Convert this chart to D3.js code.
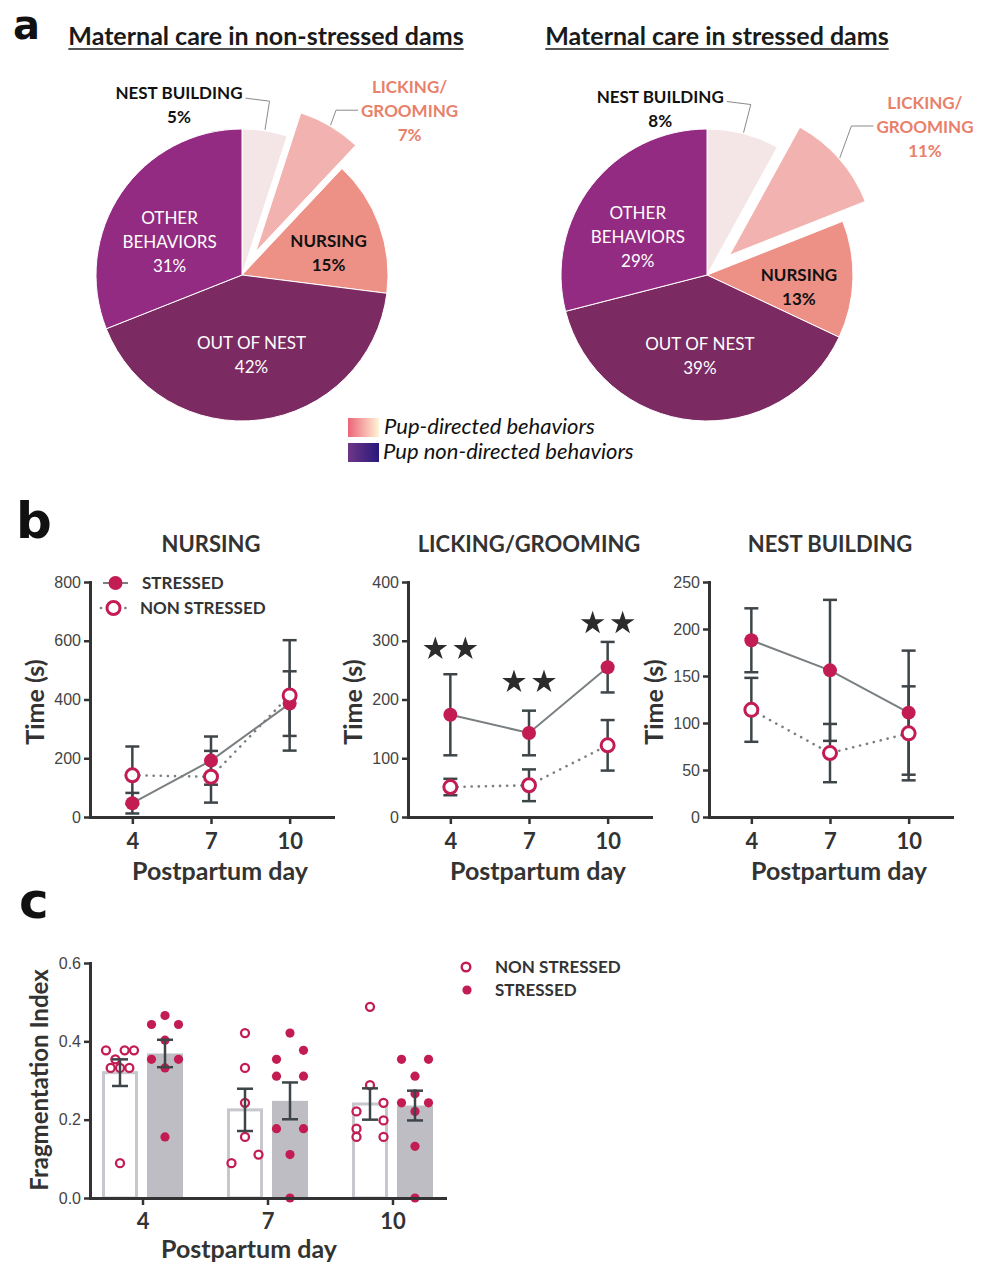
<!DOCTYPE html>
<html>
<head>
<meta charset="utf-8">
<script src="https://cdn.jsdelivr.net/npm/d3@7"></script>
<style>
  body { margin: 0; background: #fff; }
  svg { display: block; }
</style>
</head>
<body>
<svg id="fig" width="987" height="1262"></svg>
<script>
// ---------- data ----------
const pieCategories = ["NEST BUILDING", "LICKING/GROOMING", "NURSING", "OUT OF NEST", "OTHER BEHAVIORS"];
const pieLabelLines = [["NEST BUILDING"], ["LICKING/", "GROOMING"], ["NURSING"], ["OUT OF NEST"], ["OTHER", "BEHAVIORS"]];
const pieNonStressed = [5, 7, 15, 42, 31];
const pieStressed = [8, 11, 13, 39, 29];

const days = [4, 7, 10];

// panel b, mean and error bar half-length (s)
const nursingStressed = [47, 192, 386];
const nursingStressedErr = [35, 82, 110];
const nursingNonStressed = [142, 137, 414];
const nursingNonStressedErr = [98, 88, 188];

const lgStressed = [174, 143, 255];
const lgStressedErr = [69, 38, 43];
const lgNonStressed = [51, 54, 122];
const lgNonStressedErr = [14, 27, 43];
const lgStarLevel = [286, 230, 330];

const nbStressed = [188, 156, 111];
const nbStressedErr = [34, 75, 66];
const nbNonStressed = [114, 68, 89];
const nbNonStressedErr = [34, 31, 50];

const nursingTicks = [0, 200, 400, 600, 800];
const lgTicks = [0, 100, 200, 300, 400];
const nbTicks = [0, 50, 100, 150, 200, 250];

// panel c, fragmentation index
const fragTicks = [0, 0.2, 0.4, 0.6];
const fragNonStressedMean = [0.320, 0.225, 0.240];
const fragNonStressedSem = [0.034, 0.054, 0.040];
const fragStressedMean = [0.369, 0.248, 0.236];
const fragStressedSem = [0.035, 0.047, 0.038];
const fragNonStressedPts = [
  [0.377, 0.377, 0.377, 0.354, 0.332, 0.332, 0.332, 0.089],
  [0.421, 0.332, 0.243, 0.156, 0.111, 0.089],
  [0.488, 0.288, 0.243, 0.221, 0.198, 0.177, 0.156, 0.156]
];
const fragStressedPts = [
  [0.466, 0.443, 0.443, 0.403, 0.354, 0.354, 0.332, 0.156],
  [0.421, 0.377, 0.354, 0.311, 0.311, 0.177, 0.177, 0.111, 0.0],
  [0.354, 0.354, 0.311, 0.266, 0.243, 0.243, 0.221, 0.132, 0.0]
];

// ---------- styles ----------
const FONT = "Lato, 'Open Sans', sans-serif";
const NUM_FONT = "'Liberation Sans', Arial, sans-serif";
const LETTER_FONT = "'DejaVu Sans', sans-serif";
const INK = "#333";
const RED = "#c31c52";
const ERR_INK = "#3d4549";
const LINE_GRAY = "#7a7f82";
const pieColors = ["#f4e6e6", "#f2b2af", "#ed9086", "#7b2b62", "#932b82"];
const pieLabelColor = ["#111", "#e8806a", "#111", "#fff", "#fff"];
const pieLabelWeight = [700, 700, 700, 400, 400];
const pieLabelRadius = [0, 0, 0.63, 0.52, 0.6];
const pieLabelNudge = [0, 0, 4, 0, 11];

const svg = d3.select("#fig");

function panelLetter(t, x, y, size) {
  svg.append("text").attr("x", x).attr("y", y).text(t)
    .attr("font-family", LETTER_FONT).attr("font-weight", 700)
    .attr("font-size", size).attr("fill", "#111");
}

// ---------- panel a: pies ----------
const defs = svg.append("defs");
const gPink = defs.append("linearGradient").attr("id", "gradPink");
gPink.append("stop").attr("offset", "0%").attr("stop-color", "#ec6478");
gPink.append("stop").attr("offset", "100%").attr("stop-color", "#fff4d6");
const gPurple = defs.append("linearGradient").attr("id", "gradPurple");
gPurple.append("stop").attr("offset", "0%").attr("stop-color", "#6f3686");
gPurple.append("stop").attr("offset", "100%").attr("stop-color", "#281a7c");

function drawPie(cx, cy, title, values, opt) {
  const r = 146;
  const g = svg.append("g").attr("transform", `translate(${cx},${cy})`);
  const arcs = d3.pie().sort(null).value(d => d)(values);
  const arc = d3.arc().innerRadius(0).outerRadius(r);
  const mid = d => (d.startAngle + d.endAngle) / 2;
  const polar = (rad, a) => [Math.sin(a) * rad, -Math.cos(a) * rad];
  const shift = (d, i) => i === 1 ? polar(opt.explode, mid(d)) : [0, 0];

  g.selectAll("path.slice").data(arcs).join("path")
    .attr("class", "slice")
    .attr("d", arc)
    .attr("transform", (d, i) => `translate(${shift(d, i)})`)
    .attr("fill", (d, i) => pieColors[i])
    .attr("stroke", "#fff").attr("stroke-width", 1);

  const lineH = 24;
  function label(lines, i, x, y0) {
    const t = g.append("text").attr("text-anchor", "middle")
      .attr("font-family", FONT).attr("font-size", 17)
      .attr("font-weight", pieLabelWeight[i]).attr("fill", pieLabelColor[i]);
    lines.forEach((s, k) => t.append("tspan").attr("x", x).attr("y", y0 + k * lineH).text(s));
    return t;
  }

  arcs.forEach((d, i) => {
    const lines = pieLabelLines[i].concat([values[i] + "%"]);
    if (i >= 2) {
      const lr = r * pieLabelRadius[i];
      const c = d3.arc().innerRadius(lr).outerRadius(lr).centroid(d);
      label(lines, i, c[0], c[1] - (lines.length - 1) / 2 * lineH + 11 + pieLabelNudge[i]);
    }
  });

  // nest building: callout to the upper left
  const nb = arcs[0];
  const nbStart = polar(r + 1, mid(nb));
  const nbElbow = polar(r + 30, mid(nb));
  const nbEnd = [nbElbow[0] - 24, nbElbow[1] - 3];
  g.append("path").attr("d", d3.line()([nbStart, nbElbow, nbEnd]))
    .attr("fill", "none").attr("stroke", "#8a8a8a").attr("stroke-width", 1);
  const probe = g.append("text").attr("font-family", FONT).attr("font-size", 17)
    .attr("font-weight", 700).text(pieLabelLines[0][0]);
  const nbW = probe.node().getComputedTextLength();
  probe.remove();
  label(pieLabelLines[0].concat([values[0] + "%"]), 0, nbEnd[0] - 3 - nbW / 2, nbEnd[1] + 1);

  // licking/grooming: callout to the upper right of the exploded slice
  const lg = arcs[1];
  const lgStart = polar(r + opt.explode + 1, mid(lg));
  const lean = 20 * Math.PI / 180;
  const lgElbow = [lgStart[0] + Math.sin(lean) * opt.callout, lgStart[1] - Math.cos(lean) * opt.callout];
  const lgEnd = [lgElbow[0] + 22, lgElbow[1]];
  g.append("path").attr("d", d3.line()([lgStart, lgElbow, lgEnd]))
    .attr("fill", "none").attr("stroke", "#8a8a8a").attr("stroke-width", 1);
  const probe2 = g.append("text").attr("font-family", FONT).attr("font-size", 17)
    .attr("font-weight", 700).text(pieLabelLines[1][1]);
  const lgW = probe2.node().getComputedTextLength();
  probe2.remove();
  label(pieLabelLines[1].concat([values[1] + "%"]), 1, lgEnd[0] + 3 + lgW / 2, lgElbow[1] - 17);

  // title with underline
  const tt = svg.append("text").attr("x", opt.titleX).attr("y", 45)
    .attr("text-anchor", "middle").attr("font-family", FONT)
    .attr("font-weight", 700).attr("font-size", 25).attr("fill", "#1a1a1a").text(title);
  const w = tt.node().getComputedTextLength();
  svg.append("line").attr("x1", opt.titleX - w / 2).attr("x2", opt.titleX + w / 2)
    .attr("y1", 49).attr("y2", 49).attr("stroke", "#1a1a1a").attr("stroke-width", 1.6);
}

panelLetter("a", 13, 39, 40);
drawPie(242, 275, "Maternal care in non-stressed dams", pieNonStressed, { explode: 27, callout: 16, titleX: 266 });
drawPie(707, 275, "Maternal care in stressed dams", pieStressed, { explode: 30, callout: 34, titleX: 717 });

const legA = svg.append("g");
legA.append("rect").attr("x", 348).attr("y", 418).attr("width", 31).attr("height", 19).attr("fill", "url(#gradPink)");
legA.append("rect").attr("x", 348).attr("y", 443).attr("width", 31).attr("height", 19).attr("fill", "url(#gradPurple)");
legA.append("text").attr("x", 384).attr("y", 434).text("Pup-directed behaviors");
legA.append("text").attr("x", 383).attr("y", 459).text("Pup non-directed behaviors");
legA.selectAll("text").attr("font-family", FONT).attr("font-style", "italic")
  .attr("font-size", 22).attr("fill", "#111");

// ---------- shared helpers ----------
function styleAxis(sel) {
  sel.select(".domain").attr("stroke", INK).attr("stroke-width", 3).attr("stroke-linecap", "square");
  sel.selectAll(".tick line").attr("stroke", INK).attr("stroke-width", 2.5);
}

function errorBar(g, x, y, mean, err, cap) {
  const y1 = y(mean - err), y2 = y(mean + err);
  g.append("line").attr("x1", x).attr("x2", x).attr("y1", y1).attr("y2", y2);
  g.append("line").attr("x1", x - cap).attr("x2", x + cap).attr("y1", y1).attr("y2", y1);
  g.append("line").attr("x1", x - cap).attr("x2", x + cap).attr("y1", y2).attr("y2", y2);
}

// ---------- panel b: time courses ----------
function timePanel(o) {
  const g = svg.append("g");
  const x = d3.scaleLinear().domain([4 - 42 / 26, 10 + 43 / 26]).range([o.left, o.left + 243]);
  const y = d3.scaleLinear().domain([0, o.yMax]).range([817, 582]);

  const xa = g.append("g").attr("transform", "translate(0,817)")
    .call(d3.axisBottom(x).tickValues(days).tickFormat(d3.format("d")).tickSize(7).tickSizeOuter(0).tickPadding(9));
  styleAxis(xa);
  xa.selectAll(".tick text").attr("font-family", FONT).attr("font-weight", 700)
    .attr("font-size", 22).attr("fill", INK);

  const ya = g.append("g").attr("transform", `translate(${o.left},0)`)
    .call(d3.axisLeft(y).tickValues(o.ticks).tickSize(6).tickSizeOuter(0).tickPadding(3));
  styleAxis(ya);
  ya.selectAll(".tick text").attr("font-family", NUM_FONT).attr("font-size", 16).attr("fill", "#444");

  g.append("text").attr("x", x(7)).attr("y", 552).attr("text-anchor", "middle")
    .attr("font-family", FONT).attr("font-weight", 700).attr("font-size", 22).attr("fill", INK).text(o.title);
  g.append("text").attr("transform", `translate(${o.left - 46},702) rotate(-90)`).attr("text-anchor", "middle")
    .attr("font-family", FONT).attr("font-weight", 700).attr("font-size", 25).attr("fill", INK).text("Time (s)");
  g.append("text").attr("x", x(7) + 9).attr("y", 880).attr("text-anchor", "middle")
    .attr("font-family", FONT).attr("font-weight", 700).attr("font-size", 25).attr("fill", INK).text("Postpartum day");

  const line = d3.line().x((d, i) => x(days[i])).y(d => y(d));
  g.append("path").attr("d", line(o.non)).attr("fill", "none")
    .attr("stroke", LINE_GRAY).attr("stroke-width", 2.6)
    .attr("stroke-dasharray", "0.1 7").attr("stroke-linecap", "round");
  g.append("path").attr("d", line(o.str)).attr("fill", "none")
    .attr("stroke", LINE_GRAY).attr("stroke-width", 2);

  const eb = g.append("g").attr("stroke", ERR_INK).attr("stroke-width", 2.5);
  days.forEach((d, i) => {
    errorBar(eb, x(d), y, o.str[i], o.strErr[i], 7);
    errorBar(eb, x(d), y, o.non[i], o.nonErr[i], 7);
  });

  g.selectAll("circle.s").data(o.str).join("circle").attr("class", "s")
    .attr("cx", (d, i) => x(days[i])).attr("cy", d => y(d)).attr("r", 7).attr("fill", RED);
  g.selectAll("circle.n").data(o.non).join("circle").attr("class", "n")
    .attr("cx", (d, i) => x(days[i])).attr("cy", d => y(d)).attr("r", 6.5)
    .attr("fill", "#fff").attr("stroke", RED).attr("stroke-width", 3);

  return { g, x, y };
}

panelLetter("b", 16, 538, 50);

const pNursing = timePanel({ left: 90, yMax: 800, ticks: nursingTicks, title: "NURSING",
  str: nursingStressed, strErr: nursingStressedErr, non: nursingNonStressed, nonErr: nursingNonStressedErr });
const pLG = timePanel({ left: 408, yMax: 400, ticks: lgTicks, title: "LICKING/GROOMING",
  str: lgStressed, strErr: lgStressedErr, non: lgNonStressed, nonErr: lgNonStressedErr });
timePanel({ left: 709, yMax: 250, ticks: nbTicks, title: "NEST BUILDING",
  str: nbStressed, strErr: nbStressedErr, non: nbNonStressed, nonErr: nbNonStressedErr });

// significance stars on licking/grooming
const star = d3.symbol().type(d3.symbolStar).size(175);
days.forEach((d, i) => {
  [-15, 15].forEach(dx => {
    pLG.g.append("path").attr("d", star)
      .attr("transform", `translate(${pLG.x(d) + dx},${pLG.y(lgStarLevel[i])})`)
      .attr("fill", "#2b2b2b");
  });
});

// legend of panel b
const legB = pNursing.g.append("g");
legB.append("line").attr("x1", 103).attr("x2", 128).attr("y1", 583).attr("y2", 583)
  .attr("stroke", LINE_GRAY).attr("stroke-width", 2);
legB.append("circle").attr("cx", 115.5).attr("cy", 583).attr("r", 7).attr("fill", RED);
legB.append("text").attr("x", 142).attr("y", 589).text("STRESSED");
legB.append("line").attr("x1", 101).attr("x2", 128).attr("y1", 608).attr("y2", 608)
  .attr("stroke", LINE_GRAY).attr("stroke-width", 2.6).attr("stroke-dasharray", "0.1 6").attr("stroke-linecap", "round");
legB.append("circle").attr("cx", 113.5).attr("cy", 608).attr("r", 6.5)
  .attr("fill", "#fff").attr("stroke", RED).attr("stroke-width", 3);
legB.append("text").attr("x", 140).attr("y", 614).text("NON STRESSED");
legB.selectAll("text").attr("font-family", FONT).attr("font-weight", 700).attr("font-size", 17).attr("fill", INK);

// ---------- panel c: fragmentation index ----------
panelLetter("c", 19, 918, 50);

// column scatter: points closer than a marker are put side by side in a row
function columnOffsets(values, yScale, markerPx, maxStep) {
  const order = values.map((v, i) => ({ v, i })).sort((a, b) => b.v - a.v);
  const bins = [];
  for (const p of order) {
    const last = bins[bins.length - 1];
    if (last && Math.abs(yScale(p.v) - yScale(last[0].v)) <= markerPx) last.push(p);
    else bins.push([p]);
  }
  const widest = d3.max(bins, b => b.length);
  const step = widest > 3 ? Math.min(maxStep, 28 / (widest - 1)) : maxStep;
  const out = new Array(values.length);
  for (const b of bins) {
    const n = b.length;
    const cols = n === 2 ? [1, -1] : d3.range(n).map(k => k - (n - 1) / 2);
    cols.sort((a, c) => Math.abs(c) - Math.abs(a) || c - a);
    const count = v => b.filter(q => q.v === v).length;
    const members = b.slice().sort((a, c) => count(c.v) - count(a.v));
    members.forEach((p, k) => { out[p.i] = cols[k] * step; });
  }
  return out;
}

{
  const g = svg.append("g");
  const x = d3.scalePoint().domain(days).range([90, 445]).padding(0.42);
  const y = d3.scaleLinear().domain([0, 0.6]).range([1198, 963]);
  const half = 22.5;

  // bars
  g.selectAll("rect.n").data(fragNonStressedMean).join("rect").attr("class", "n")
    .attr("x", (d, i) => x(days[i]) - half - 16.5).attr("width", 33)
    .attr("y", d => y(d)).attr("height", d => y(0) - y(d))
    .attr("fill", "#fff").attr("stroke", "#c7c7ce").attr("stroke-width", 3);
  g.selectAll("rect.s").data(fragStressedMean).join("rect").attr("class", "s")
    .attr("x", (d, i) => x(days[i]) + half - 18).attr("width", 36)
    .attr("y", d => y(d)).attr("height", d => y(0) - y(d))
    .attr("fill", "#bdbdc3");

  // individual animals
  days.forEach((d, i) => {
    const offN = columnOffsets(fragNonStressedPts[i], y, 9.6, 13.5);
    fragNonStressedPts[i].forEach((v, k) => {
      g.append("circle").attr("cx", x(d) - half + offN[k]).attr("cy", y(v)).attr("r", 4)
        .attr("fill", "#fff").attr("stroke", RED).attr("stroke-width", 2.3);
    });
    const offS = columnOffsets(fragStressedPts[i], y, 9.6, 13.5);
    fragStressedPts[i].forEach((v, k) => {
      g.append("circle").attr("cx", x(d) + half + offS[k]).attr("cy", y(v)).attr("r", 4.6)
        .attr("fill", RED);
    });
  });

  const eb = g.append("g").attr("stroke", ERR_INK).attr("stroke-width", 2.5);
  days.forEach((d, i) => {
    errorBar(eb, x(d) - half, y, fragNonStressedMean[i], fragNonStressedSem[i], 8);
    errorBar(eb, x(d) + half, y, fragStressedMean[i], fragStressedSem[i], 8);
  });

  const xa = g.append("g").attr("transform", "translate(0,1198)")
    .call(d3.axisBottom(x).tickSize(7).tickSizeOuter(0).tickPadding(8));
  styleAxis(xa);
  xa.selectAll(".tick text").attr("font-family", FONT).attr("font-weight", 700)
    .attr("font-size", 22).attr("fill", INK);

  const ya = g.append("g").attr("transform", "translate(90,0)")
    .call(d3.axisLeft(y).tickValues(fragTicks).tickFormat(d3.format(".1f")).tickSize(6).tickSizeOuter(0).tickPadding(3));
  styleAxis(ya);
  ya.selectAll(".tick text").attr("font-family", NUM_FONT).attr("font-size", 16).attr("fill", "#444");

  g.append("text").attr("transform", "translate(48,1080) rotate(-90)").attr("text-anchor", "middle")
    .attr("font-family", FONT).attr("font-weight", 700).attr("font-size", 24).attr("fill", INK).text("Fragmentation Index");
  g.append("text").attr("x", 249).attr("y", 1258).attr("text-anchor", "middle")
    .attr("font-family", FONT).attr("font-weight", 700).attr("font-size", 25).attr("fill", INK).text("Postpartum day");

  const leg = g.append("g");
  leg.append("circle").attr("cx", 466).attr("cy", 967).attr("r", 4.3)
    .attr("fill", "#fff").attr("stroke", RED).attr("stroke-width", 2.4);
  leg.append("circle").attr("cx", 467).attr("cy", 990).attr("r", 4.6).attr("fill", RED);
  leg.append("text").attr("x", 495).attr("y", 973).text("NON STRESSED");
  leg.append("text").attr("x", 495).attr("y", 996).text("STRESSED");
  leg.selectAll("text").attr("font-family", FONT).attr("font-weight", 700).attr("font-size", 17).attr("fill", INK);
}
</script>
</body>
</html>
